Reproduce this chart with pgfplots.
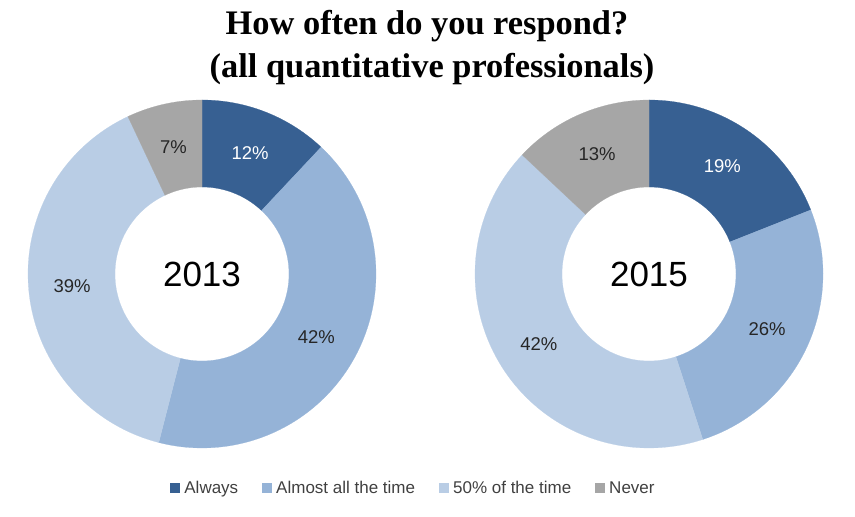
\documentclass[border=0pt]{standalone}
\usepackage{fontspec}
\setmainfont{Liberation Serif}
\newfontfamily\sansf{Liberation Sans}
\usepackage{pgfplots}
\usepackage{pgfplotstable}
\pgfplotsset{compat=1.18}
\definecolor{cA}{HTML}{376092}
\definecolor{cB}{HTML}{95B3D7}
\definecolor{cC}{HTML}{B9CDE5}
\definecolor{cD}{HTML}{A6A6A6}
\definecolor{txt}{HTML}{262626}
\definecolor{legtxt}{HTML}{404040}
\newcommand\labelfont{\sansf\fontsize{18.5}{22}\selectfont}
\newcommand\yearfont{\sansf\fontsize{35}{40}\selectfont}

\pgfplotstableread{
cat val col tc
Always 12 cA white
Almost 42 cB txt
Half 39 cC txt
Never 7 cD txt
}\dataA
\pgfplotstableread{
cat val col tc
Always 19 cA white
Almost 26 cB txt
Half 42 cC txt
Never 13 cD txt
}\dataB

\newcommand\donut[4]{%
  \pgfplotstablegetrowsof{#3}\pgfmathtruncatemacro\nrows{\pgfplotsretval-1}%
  \def\cumsum{0}%
  \pgfplotsforeachungrouped \i in {0,...,\nrows}{%
    \pgfplotstablegetelem{\i}{val}\of{#3}\let\myval\pgfplotsretval
    \pgfplotstablegetelem{\i}{col}\of{#3}\let\mycol\pgfplotsretval
    \pgfplotstablegetelem{\i}{tc}\of{#3}\let\mytc\pgfplotsretval
    \pgfmathsetmacro\angA{\cumsum*3.6}%
    \pgfmathsetmacro\angB{(\cumsum+\myval)*3.6}%
    \pgfmathsetmacro\angM{(\cumsum+\myval/2)*3.6}%
    \pgfmathsetmacro\lx{#1+130.5*sin(\angM)}%
    \pgfmathsetmacro\ly{#2+130.5*cos(\angM)}%
    \edef\doit{%
      \noexpand\addplot[fill=\mycol, draw=\mycol, line width=0.2pt, samples=203, domain=0:202]
        ({#1+ifthenelse(x<100.5,174*sin(\angA+(\angB-\angA)*x/100),87*sin(\angB-(\angB-\angA)*(x-101)/101))},
         {#2+ifthenelse(x<100.5,174*cos(\angA+(\angB-\angA)*x/100),87*cos(\angB-(\angB-\angA)*(x-101)/101))}) -- cycle;
      \noexpand\node[text=\mytc, font=\noexpand\labelfont] at (axis cs:\lx,\ly) {\myval\noexpand\%};
    }\doit
    \pgfmathsetmacro\cumsum{\cumsum+\myval}%
  }%
  \node[font=\yearfont] at (axis cs:#1,#2) {#4};
}

\begin{document}
\begin{tikzpicture}
\begin{axis}[
  x=1pt, y=1pt,
  xmin=0, xmax=855, ymin=0, ymax=517,
  hide axis, clip=false,
  legend columns=4,
  legend image code/.code={\fill[#1] (0pt,-5pt) rectangle (10pt,5pt);},
  legend style={at={(axis cs:413,29)}, anchor=center, draw=none, fill=none,
    font=\sansf\fontsize{17}{20}\selectfont, text=legtxt,
    nodes={inner sep=1.5pt},
    /tikz/every odd column/.append style={column sep=3pt},
    /tikz/every even column/.append style={column sep=22pt}},
]
\path (axis cs:0,0) rectangle (axis cs:855,517);
\addlegendimage{fill=cA, draw=none}
\addlegendimage{fill=cB, draw=none}
\addlegendimage{fill=cC, draw=none}
\addlegendimage{fill=cD, draw=none}
\addlegendentry{Always}
\addlegendentry{Almost all the time}
\addlegendentry{50\% of the time}
\addlegendentry{Never}

\donut{202}{243}{\dataA}{2013}
\donut{649}{243}{\dataB}{2015}

\node[anchor=base, font=\bfseries\fontsize{34.4}{40}\selectfont] at (axis cs:427,482) {How often do you respond?};
\node[anchor=base, font=\bfseries\fontsize{34.4}{40}\selectfont] at (axis cs:432,439) {(all quantitative professionals)};
\end{axis}
\end{tikzpicture}
\end{document}
